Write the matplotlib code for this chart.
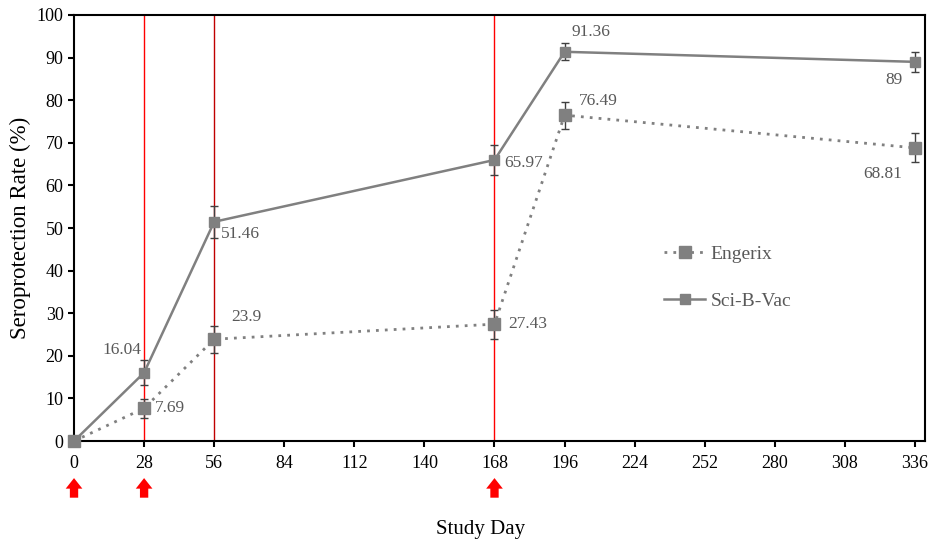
import matplotlib.pyplot as plt
from matplotlib.lines import Line2D
import numpy as np

plt.rcParams['font.family'] = ['Liberation Serif', 'DejaVu Serif']

days = [0, 28, 56, 168, 196, 336]
sci_b_vac = [0, 16.04, 51.46, 65.97, 91.36, 89]
sci_err = [0, 2.9, 3.7, 3.5, 2.0, 2.4]
engerix = [0, 7.69, 23.9, 27.43, 76.49, 68.81]
eng_err = [0, 2.2, 3.2, 3.4, 3.2, 3.4]
vaccination_days = [0, 28, 168]
marker_lines = [28, 56, 168]

grey = '#808080'
label_grey = '#595959'

fig = plt.figure(figsize=(9.3, 5.43), dpi=100)
ax = fig.add_axes([0.0796, 0.1878, 0.915, 0.7846])

# vertical reference lines
for d, c in zip(marker_lines, ['red', '#c00000', 'red']):
    ax.axvline(d, color=c, lw=1.0, zorder=1)

eng_style = dict(color=grey, ls=(0, (1, 2.2)), lw=2, marker='s', ms=8)
sci_style = dict(color=grey, ls='-', lw=1.8, marker='s', ms=6.5)

ax.errorbar(days, engerix, yerr=eng_err, capsize=3, elinewidth=1, ecolor='#404040',
            clip_on=False, zorder=3, **eng_style)
ax.errorbar(days, sci_b_vac, yerr=sci_err, capsize=3, elinewidth=1, ecolor='#404040',
            clip_on=False, zorder=3, **sci_style)

# value labels (offset in points, horizontal alignment)
sci_offsets = [None, (-2, 16, 'right'), (5, -9, 'left'), (7, -2, 'left'),
               (5, 14, 'left'), (-9, -13, 'right')]
eng_offsets = [None, (8, 0, 'left'), (12, 16, 'left'), (10, 0, 'left'),
               (10, 10, 'left'), (-9, -19, 'right')]
for vals, offs in [(sci_b_vac, sci_offsets), (engerix, eng_offsets)]:
    for x, y, off in zip(days, vals, offs):
        if off:
            ax.annotate(f'{y:g}', (x, y), xytext=off[:2], textcoords='offset points',
                        fontsize=12.5, color=label_grey, va='center', ha=off[2])

# vaccination arrows below the axis
for d in vaccination_days:
    ax.annotate('', xy=(d, -8.7), xytext=(d, -13.3),
                arrowprops=dict(arrowstyle='simple,head_width=0.6,head_length=0.38,tail_width=0.3',
                                mutation_scale=20, color='red', lw=0,
                                shrinkA=0, shrinkB=0),
                annotation_clip=False)

ax.set_xlim(0, 340)
ax.set_ylim(0, 100)
ax.set_xticks(np.arange(0, 337, 28))
ax.set_yticks(np.arange(0, 101, 10))
ax.tick_params(labelsize=13, direction='out', width=1.5, length=4, colors='black')
ax.tick_params(axis='x', pad=6)
for s in ax.spines.values():
    s.set_linewidth(1.5)

ax.set_xlabel('Study Day', fontsize=15)
ax.xaxis.set_label_coords(0.478, -0.185)
ax.set_ylabel('Seroprotection Rate (%)', fontsize=16.5)

handles = [Line2D([], [], **eng_style), Line2D([], [], **sci_style)]
leg = ax.legend(handles, ['Engerix', 'Sci-B-Vac'], loc='center left',
                bbox_to_anchor=(0.673, 0.384), frameon=False,
                fontsize=14, handlelength=2.1, handletextpad=0.3, labelspacing=1.5)
for t in leg.get_texts():
    t.set_color(label_grey)

fig.savefig('out.png', dpi=100)
